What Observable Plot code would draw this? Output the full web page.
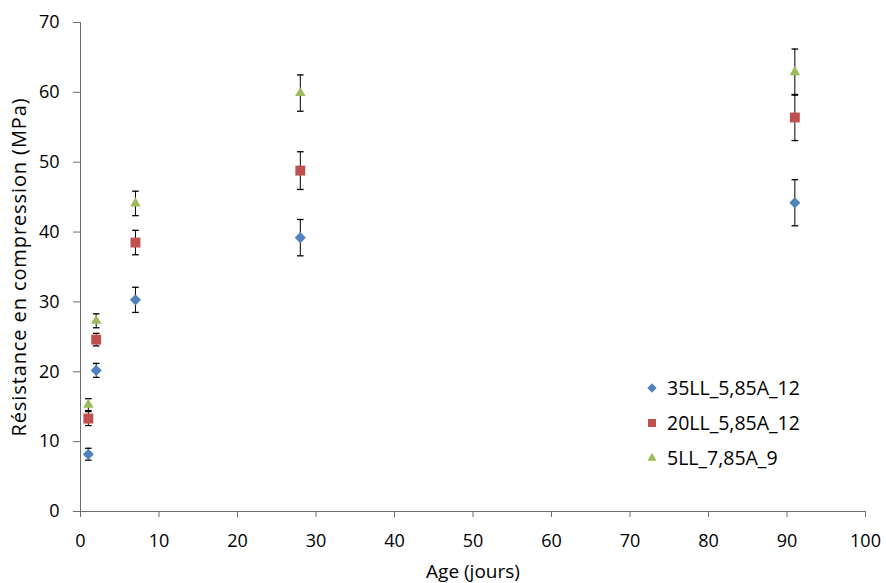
<!DOCTYPE html>
<html>
<head>
<meta charset="utf-8">
<script src="https://cdn.jsdelivr.net/npm/d3@7"></script>
<script src="https://cdn.jsdelivr.net/npm/@observablehq/plot@0.6"></script>
<style>
  html, body { margin: 0; padding: 0; background: #fff; }
  #wrap { position: relative; width: 886px; height: 583px; font-family: "Open Sans", Lato, sans-serif; }
  #legend { position: absolute; left: 645px; top: 370px; font-size: 19.5px; color: #000; }
  #legend .item { display: flex; align-items: center; height: 35px; }
  #legend svg { margin-right: 8px; }
</style>
</head>
<body>
<div id="wrap"></div>
<script>
const series = ["35LL_5,85A_12", "20LL_5,85A_12", "5LL_7,85A_9"];
const ages = [1, 2, 7, 28, 91];
const values35 = [8.2, 20.2, 30.3, 39.2, 44.2];
const errors35 = [0.85, 1.0, 1.8, 2.6, 3.3];
const values20 = [13.3, 24.6, 38.5, 48.8, 56.4];
const errors20 = [1.0, 0.9, 1.75, 2.7, 3.3];
const values5 = [15.3, 27.3, 44.1, 59.9, 62.9];
const errors5 = [0.85, 1.0, 1.75, 2.6, 3.3];
const colors = ["#4F81BD", "#C0504D", "#9BBB59"];
const symbols = ["diamond2", "square", "triangle"];
const radii = [5.0, 5.6, 3.9];
const xTicks = [0, 10, 20, 30, 40, 50, 60, 70, 80, 90, 100];
const yTicks = [0, 10, 20, 30, 40, 50, 60, 70];

const allValues = [values35, values20, values5];
const allErrors = [errors35, errors20, errors5];
const data = [];
series.forEach((s, i) => {
  ages.forEach((a, j) => {
    data.push({series: s, age: a, value: allValues[i][j], err: allErrors[i][j], idx: i});
  });
});

const capSymbol = {
  draw(ctx, size) {
    const r = Math.sqrt(size / Math.PI);
    ctx.moveTo(-r, 0);
    ctx.lineTo(r, 0);
  }
};

const chart = Plot.plot({
  width: 886,
  height: 583,
  marginLeft: 80,
  marginRight: 21,
  marginTop: 22,
  marginBottom: 72,
  style: {fontFamily: "'Open Sans', Lato, sans-serif", fontSize: "18px", color: "#000", background: "#fff"},
  x: {domain: [0, 100]},
  y: {domain: [0, 70]},
  marks: [
    Plot.axisX({ticks: xTicks, tickSize: 6, tickPadding: 17, stroke: "#6e6e6e", tickFormat: d => String(d),
      label: null, fill: "#000"}),
    Plot.axisX({ticks: [], label: "Age (jours)", labelAnchor: "center", labelArrow: "none", labelOffset: 66, fill: "#000", fontSize: 19}),
    Plot.axisY({ticks: yTicks, tickSize: 7, tickPadding: 14, stroke: "#6e6e6e", tickFormat: d => String(d),
      label: null, fill: "#000"}),
    Plot.axisY({ticks: [], label: "Résistance en compression (MPa)", labelAnchor: "center", labelArrow: "none", labelOffset: 69, fill: "#000", fontSize: 20}),
    Plot.ruleX([0], {stroke: "#6e6e6e"}),
    Plot.ruleY([0], {stroke: "#6e6e6e"}),
    Plot.ruleX(data, {x: "age", y1: d => d.value - d.err, y2: d => d.value + d.err, stroke: "#000", strokeWidth: 1}),
    Plot.dot(data, {x: "age", y: d => d.value + d.err, symbol: () => capSymbol, r: 3.3, stroke: "#000", strokeWidth: 1.3}),
    Plot.dot(data, {x: "age", y: d => d.value - d.err, symbol: () => capSymbol, r: 3.3, stroke: "#000", strokeWidth: 1.3}),
    ...series.map((s, i) => Plot.dot(data.filter(d => d.idx === i), {
      x: "age", y: "value", symbol: () => symbols[i], r: radii[i], fill: colors[i], stroke: "none"
    }))
  ]
});
chart.querySelectorAll("text").forEach(t => {
  if (t.textContent.startsWith("Résistance")) t.setAttribute("letter-spacing", "0.9");
});
document.getElementById("wrap").appendChild(chart);

const legend = document.createElement("div");
legend.id = "legend";
series.forEach((s, i) => {
  const item = document.createElement("div");
  item.className = "item";
  const sym = d3.create("svg").attr("width", 14).attr("height", 14);
  sym.append("path")
    .attr("transform", "translate(7,7)")
    .attr("d", d3.symbol(i === 0 ? d3.symbolDiamond2 : i === 1 ? d3.symbolSquare : d3.symbolTriangle, i === 0 ? 55 : i === 1 ? 64 : 36)())
    .attr("fill", colors[i]);
  item.appendChild(sym.node());
  const t = document.createElement("span");
  t.textContent = s;
  item.appendChild(t);
  legend.appendChild(item);
});
document.getElementById("wrap").appendChild(legend);
</script>
</body>
</html>
